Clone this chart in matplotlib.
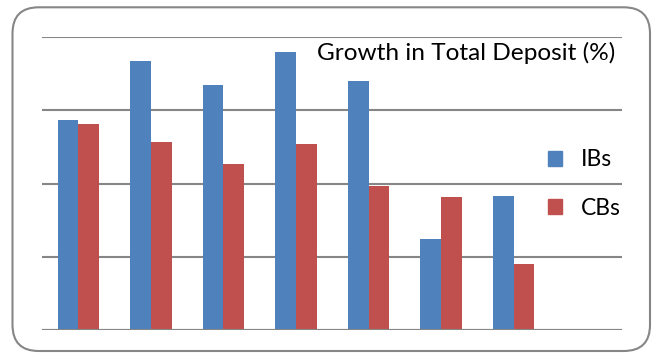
import matplotlib.pyplot as plt
import numpy as np
from matplotlib.patches import FancyBboxPatch, Patch

# data (no tick labels, so scale is in gridline units x10)
groups = ["1", "2", "3", "4", "5", "6", "7"]
ibs = [28.7, 36.7, 33.5, 37.9, 34.0, 12.5, 18.3]
cbs = [28.1, 25.7, 22.7, 25.4, 19.7, 18.2, 9.1]
series_names = ["IBs", "CBs"]

blue = "#4F81BD"
red = "#C0504D"
grey = "#868686"

plt.rcParams['font.family'] = ['Lato', 'DejaVu Sans']

fig = plt.figure(figsize=(6.54, 3.54), dpi=100)
ax = fig.add_axes([42 / 654, 1 - 330.3 / 354, (622.5 - 42) / 654, (330.3 - 37) / 354])

x = np.arange(len(groups))
w = 0.285
ax.bar(x - w / 2, ibs, width=w, color=blue, zorder=3)
ax.bar(x + w / 2, cbs, width=w, color=red, zorder=3)

ax.set_xlim(-0.5, 7.5)
ax.set_ylim(0, 40)
ax.set_yticks([0, 10, 20, 30, 40])
ax.grid(axis='y', color=grey, linewidth=1.5, zorder=0)
ax.set_xticks([])
ax.tick_params(left=False, labelleft=False)
for s in ax.spines.values():
    s.set_visible(False)
ax.axhline(0, color=grey, linewidth=1.5, zorder=4)

# title sits inside the plot, top right
fig.text(615 / 654, 1 - 53 / 354, "Growth in Total Deposit (%)",
         ha='right', va='center', fontsize=17.6, color='black', zorder=5)

handles = [Patch(color=blue), Patch(color=red)]
fig.legend(handles, series_names, loc='center left',
           bbox_to_anchor=(527 / 654, 1 - 184 / 354), frameon=False,
           fontsize=16.5, handlelength=0.62, handleheight=0.62,
           labelspacing=1.2, handletextpad=0.85)

# rounded outer border
box = FancyBboxPatch((12.5 / 654, 3 / 354), (650 - 12.5) / 654, (346.7 - 3) / 354,
                     boxstyle="round,pad=0,rounding_size=0.04",
                     transform=fig.transFigure, fill=False,
                     edgecolor=grey, linewidth=1.5, mutation_aspect=654 / 354)
fig.patches.append(box)

fig.savefig("out.png", dpi=100)
